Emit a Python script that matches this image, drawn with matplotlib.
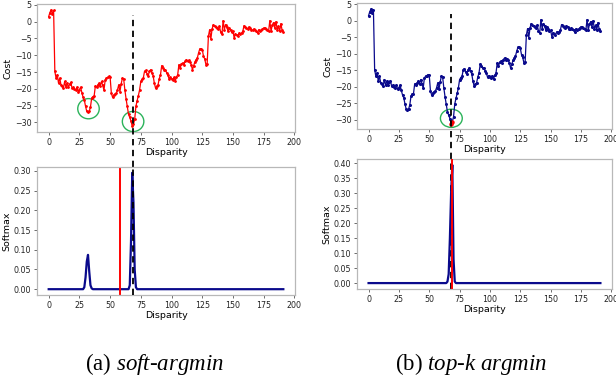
import numpy as np
import matplotlib
matplotlib.use("Agg")
import matplotlib.pyplot as plt
from matplotlib.patches import Ellipse

plt.rcParams['font.family'] = ['DejaVu Sans']
plt.rcParams['mathtext.fontset'] = 'custom'
plt.rcParams['mathtext.rm'] = 'Liberation Serif'
plt.rcParams['mathtext.it'] = 'Liberation Serif:italic'

# matching cost per disparity (0..191)
cost = [
    1.5, 2.7, 3.5, 2.3, 3.3, -14.8, -16.8, -15.8, -18.3, -16.8,
    -18.8, -19.1, -19.8, -17.8, -19.5, -18.3, -19.5, -18.6, -18.1, -19.8,
    -19.5, -20.0, -20.4, -19.5, -20.8, -20.2, -19.5, -21.1, -22.5, -23.3,
    -25.2, -26.7, -26.9, -26.7, -25.4, -22.7, -22.3, -22.1, -19.1, -19.5,
    -18.8, -18.3, -19.1, -17.8, -19.0, -20.4, -17.3, -16.8, -16.6, -16.3,
    -16.5, -21.3, -22.5, -21.8, -21.5, -21.3, -20.3, -18.8, -20.8, -18.5,
    -16.8, -17.0, -20.3, -23.0, -25.2, -27.6, -28.5, -29.6, -31.1, -30.5,
    -29.1, -25.2, -23.5, -22.0, -20.3, -17.8, -17.2, -16.8, -14.8, -14.5,
    -15.5, -16.1, -14.8, -14.3, -15.2, -16.1, -18.3, -19.8, -19.2, -18.8,
    -17.0, -15.8, -13.1, -13.8, -14.3, -14.3, -15.2, -15.8, -17.1, -16.6,
    -17.0, -17.3, -16.6, -17.6, -16.5, -15.8, -12.8, -13.8, -12.6, -12.3,
    -12.8, -11.8, -11.3, -11.8, -11.5, -12.0, -12.8, -14.3, -13.1, -12.0,
    -11.3, -10.8, -9.3, -8.1, -8.1, -8.3, -10.3, -11.1, -12.8, -12.5,
    -4.4, -2.4, -5.2, -2.2, -0.9, -1.4, -1.6, -1.8, -2.2, -1.4,
    -3.2, -3.8, 0.3, -2.4, -0.9, -1.6, -2.9, -1.9, -2.5, -3.2,
    -2.9, -4.9, -3.6, -4.0, -4.2, -3.4, -3.6, -3.4, -2.9, -1.2,
    -1.6, -1.9, -2.2, -1.6, -2.0, -2.4, -2.6, -2.2, -2.5, -2.9,
    -3.4, -2.4, -2.8, -2.6, -2.2, -1.9, -2.0, -2.2, -2.6, -2.9,
    0.3, -2.9, -1.0, -0.3, -1.9, 0.0, -2.4, -1.4, -2.9, -0.6,
    -2.6, -3.2,
]
disp = np.arange(len(cost))

# softmax probabilities: zero everywhere except these disparities
soft_idx = [29, 30, 31, 32, 33, 34, 35, 66, 67, 68, 69, 70, 71]
soft_val = [0.005, 0.03, 0.07, 0.087, 0.045, 0.01, 0.002,
            0.01, 0.12, 0.295, 0.22, 0.05, 0.005]
topk_idx = [65, 66, 67, 68, 69, 70, 71]
topk_val = [0.005, 0.03, 0.15, 0.30, 0.395, 0.08, 0.005]

soft_pred = 58.0      # soft-argmin estimate
topk_pred = 69.0      # top-k argmin estimate
ground_truth = 68.3   # dashed line
topk_sel = [68, 69]   # red points on the cost curve

# green circles: (disparity, cost)
circles_a = [(32.4, -25.9), (68.7, -29.7)]
circles_b = [(68.2, -29.5)]

p_soft = np.zeros(len(cost))
p_soft[soft_idx] = soft_val
p_topk = np.zeros(len(cost))
p_topk[topk_idx] = topk_val

NAVY = '#0a0a8c'
GREEN = '#2bb35a'
SPINE = '#b8b8b8'

fig = plt.figure(figsize=(6.16, 3.81), dpi=100)
ax1 = fig.add_axes([0.060, 0.6535, 0.419, 0.336])
ax2 = fig.add_axes([0.5795, 0.6606, 0.414, 0.3307])
ax3 = fig.add_axes([0.060, 0.2257, 0.419, 0.336])
ax4 = fig.add_axes([0.5795, 0.2415, 0.414, 0.341])


def style(ax, ylabel):
    for s in ax.spines.values():
        s.set_color(SPINE)
        s.set_linewidth(0.9)
    ax.tick_params(labelsize=5.7, length=2.5, width=0.6, color='#555555',
                   labelcolor='#222222', pad=1.5)
    ax.set_xticks(np.arange(0, 201, 25))
    ax.set_xlabel('Disparity', fontsize=6.8, labelpad=1)
    ax.set_ylabel(ylabel, fontsize=6.8, labelpad=2)


# top-left: cost, soft-argmin
ax1.plot(disp, cost, color='red', lw=0.9, marker='o', ms=1.0)
ax1.set_yticks(np.arange(-30, 6, 5))
style(ax1, 'Cost')
for cx, cy in circles_a:
    ax1.add_patch(Ellipse((cx, cy), 17.5, 6.0, fill=False, ec=GREEN, lw=1.0))

# top-right: cost, top-k
ax2.plot(disp, cost, color=NAVY, lw=0.9, marker='o', ms=1.2)
ax2.plot(topk_sel, [cost[i] for i in topk_sel], 'o', color='red', ms=2.2,
         zorder=3)
ax2.set_yticks(np.arange(-30, 6, 5))
style(ax2, 'Cost')
for cx, cy in circles_b:
    ax2.add_patch(Ellipse((cx, cy), 18.0, 5.5, fill=False, ec=GREEN, lw=1.0))

# bottom-left: softmax, soft-argmin
ax3.plot(disp, p_soft, color=NAVY, lw=1.6, zorder=2)
ax3.axvline(soft_pred, color='red', lw=1.4, zorder=2)
ax3.axvline(ground_truth, color='black', ls='--', lw=1.3, dashes=(3.5, 2.5),
            zorder=3)
ax3.set_yticks(np.arange(0, 0.301, 0.05))
ax3.yaxis.set_major_formatter(matplotlib.ticker.FormatStrFormatter('%.2f'))
style(ax3, 'Softmax')

# bottom-right: softmax, top-k
ax4.axvline(ground_truth, color='black', ls='--', lw=1.3, dashes=(3.5, 2.5),
            zorder=1)
ax4.plot(disp, p_topk, color=NAVY, lw=1.6, zorder=2)
ax4.axvline(topk_pred, color='red', lw=1.4, zorder=3)
ax4.set_yticks(np.arange(0, 0.401, 0.05))
ax4.yaxis.set_major_formatter(matplotlib.ticker.FormatStrFormatter('%.2f'))
style(ax4, 'Softmax')

# dashed ground-truth line from the top panels down to the lower panels
for top, low in [(ax1, ax3), (ax2, ax4)]:
    pt, pl = top.get_position(), low.get_position()
    ymin = (pl.y1 - pt.y0) / pt.height
    top.axvline(ground_truth, ymin=ymin, ymax=0.914, color='black', ls='--',
                lw=1.3, dashes=(3.5, 2.5), clip_on=False, zorder=4)

fig.text(0.250, 0.029, r'(a) $\mathit{soft}$-$\mathit{argmin}$', fontsize=16.5,
         ha='center', va='baseline', family='Liberation Serif')
fig.text(0.765, 0.029, r'(b) $\mathit{top}$-$\mathit{k}$ $\mathit{argmin}$',
         fontsize=16.5, ha='center', va='baseline', family='Liberation Serif')

fig.savefig('out.png', dpi=100)
